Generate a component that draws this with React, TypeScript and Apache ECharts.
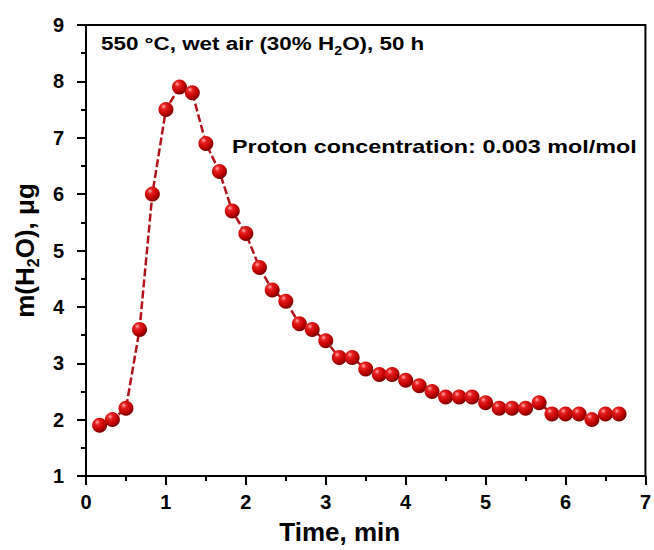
import React, { useEffect, useRef } from "react";
import * as echarts from "echarts";

const timeMin = [0.17, 0.33, 0.5, 0.67, 0.83, 1.0, 1.17, 1.33, 1.5, 1.67, 1.83, 2.0, 2.17, 2.33, 2.5, 2.67, 2.83, 3.0, 3.17, 3.33, 3.5, 3.67, 3.83, 4.0, 4.17, 4.33, 4.5, 4.67, 4.83, 5.0, 5.17, 5.33, 5.5, 5.67, 5.83, 6.0, 6.17, 6.33, 6.5, 6.67];
const massH2O = [1.9, 2.0, 2.2, 3.6, 6.0, 7.5, 7.9, 7.8, 6.9, 6.4, 5.7, 5.3, 4.7, 4.3, 4.1, 3.7, 3.6, 3.4, 3.1, 3.1, 2.9, 2.8, 2.8, 2.7, 2.6, 2.5, 2.4, 2.4, 2.4, 2.3, 2.2, 2.2, 2.2, 2.3, 2.1, 2.1, 2.1, 2.0, 2.1, 2.1];

const FONT = "'Liberation Sans', Arial, sans-serif";

export default function App() {
  const ref = useRef<HTMLDivElement>(null);
  useEffect(() => {
    if (!ref.current) return;
    const chart = echarts.init(ref.current, null, { renderer: "svg" });
    const data = timeMin.map((t, i) => [t, massH2O[i]]);
    const sphere = new echarts.graphic.RadialGradient(0.35, 0.3, 0.7, [
      { offset: 0, color: "#ffb0b0" },
      { offset: 0.25, color: "#e82020" },
      { offset: 0.7, color: "#c00000" },
      { offset: 1, color: "#7a0000" },
    ]);
    chart.setOption({
      animation: false,
      backgroundColor: "#fff",
      grid: {
        left: 86,
        right: 7,
        top: 25,
        bottom: 73,
        show: true,
        borderColor: "#000",
        borderWidth: 2,
        backgroundColor: "transparent",
      },
      xAxis: {
        type: "value",
        min: 0,
        max: 7,
        interval: 1,
        name: "Time, min",
        nameLocation: "middle",
        nameGap: 43,
        nameTextStyle: { fontFamily: FONT, fontWeight: "bold", fontSize: 26, color: "#000", padding: [0, 52, 0, 0] },
        axisLine: { show: true, lineStyle: { color: "#000", width: 2 } },
        axisTick: { show: true, inside: false, length: 9, lineStyle: { color: "#000", width: 2 } },
        minorTick: { show: true, splitNumber: 2, length: 5, lineStyle: { color: "#000", width: 2 } },
        splitLine: { show: false },
        axisLabel: { fontFamily: FONT, fontWeight: "bold", fontSize: 20, color: "#000", margin: 16 },
      },
      yAxis: {
        type: "value",
        min: 1,
        max: 9,
        interval: 1,
        name: "{a|m(H}{s|2}{a|O), μg}",
        nameLocation: "middle",
        nameRotate: 90,
        nameGap: 44,
        nameTextStyle: {
          fontFamily: FONT,
          fontWeight: "bold",
          fontSize: 26,
          color: "#000",
          rich: {
            a: { fontFamily: FONT, fontWeight: "bold", fontSize: 26, color: "#000", lineHeight: 34 },
            s: { fontFamily: FONT, fontWeight: "bold", fontSize: 16, color: "#000", lineHeight: 16, verticalAlign: "bottom" },
          },
        },
        axisLine: { show: true, lineStyle: { color: "#000", width: 2 } },
        axisTick: { show: true, inside: false, length: 9, lineStyle: { color: "#000", width: 2 } },
        minorTick: { show: true, splitNumber: 2, length: 5, lineStyle: { color: "#000", width: 2 } },
        splitLine: { show: false },
        axisLabel: { fontFamily: FONT, fontWeight: "bold", fontSize: 20, color: "#000", margin: 22 },
      },
      graphic: [
        {
          type: "text",
          x: 101,
          y: 30,
          scaleX: 1.18,
          style: {
            text: "{a|550 °C, wet air (30% H}{s|2}{a|O), 50 h}",
            rich: {
              a: { fontFamily: FONT, fontWeight: "bold", fontSize: 19, fill: "#000", lineHeight: 27 },
              s: { fontFamily: FONT, fontWeight: "bold", fontSize: 12, fill: "#000", lineHeight: 12, verticalAlign: "bottom" },
            },
          },
        },
        {
          type: "text",
          x: 232,
          y: 137,
          scaleX: 1.23,
          style: {
            text: "Proton concentration: 0.003 mol/mol",
            fontFamily: FONT,
            fontWeight: "bold",
            fontSize: 19,
            fill: "#000",
          },
        },
      ],
      series: [
        {
          type: "line",
          data,
          symbol: "circle",
          symbolSize: 15,
          lineStyle: { color: "#b3121a", width: 2.5, type: [8, 3] },
          itemStyle: { color: sphere, borderWidth: 0 },
          z: 3,
        },
      ],
    });
    return () => chart.dispose();
  }, []);
  return <div ref={ref} style={{ width: 654, height: 550, position: "absolute", left: 0, top: 0 }} />;
}
